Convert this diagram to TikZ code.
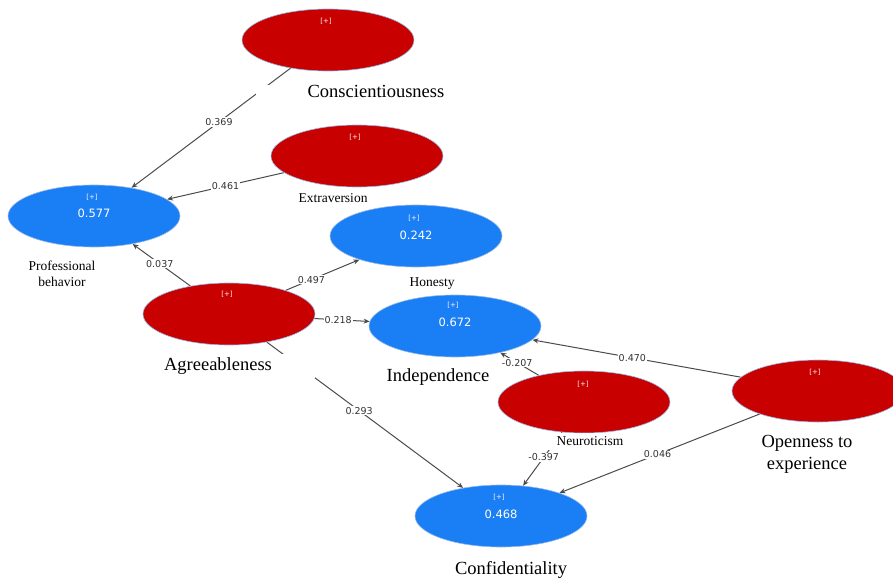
\documentclass[tikz,border=0pt]{standalone}
\usepackage{fontspec}
\setmainfont{Liberation Serif}
\newfontfamily\numfont{DejaVu Sans}
\usetikzlibrary{arrows.meta,shapes.geometric,backgrounds}

\definecolor{latentred}{RGB}{200,0,0}
\definecolor{latentblue}{RGB}{26,126,245}
\definecolor{rimblue}{RGB}{150,185,230}
\definecolor{pathgray}{RGB}{75,75,75}

\tikzset{
  construct/.style={ellipse, minimum width=172pt, minimum height=62pt, inner sep=0pt,
    draw=rimblue, line width=0.6pt},
  exo/.style={construct, fill=latentred},
  endo/.style={construct, fill=latentblue},
  plus/.style={font=\numfont\fontsize{7}{8}\selectfont, text=white!85!pink, inner sep=0pt},
  rsq/.style={font=\numfont\fontsize{11.5}{13}\selectfont, text=white, inner sep=0pt},
  namebox/.style={fill=white, align=center, inner sep=0pt},
  bigname/.style={namebox, font=\fontsize{18.5}{22}\selectfont},
  smallname/.style={namebox, font=\fontsize{13.5}{16}\selectfont},
  path/.style={draw=pathgray, line width=1pt, -{Stealth[length=6pt,width=5pt]}},
  coef/.style={fill=white, inner sep=1pt, font=\numfont\fontsize{9.5}{11}\selectfont, text=black!80},
}

\begin{document}
\begin{tikzpicture}[x=1pt,y=-1pt]
\useasboundingbox (0,0) rectangle (893,583);
\clip (0,0) rectangle (893,583);

% latent variables
\node[exo]  (consc) at (328,40)  {};
\node[exo]  (extra) at (357,156) {};
\node[endo] (prof)  at (94,216)  {};
\node[endo] (hon)   at (416,236) {};
\node[exo]  (agree) at (229,314) {};
\node[endo] (indep) at (455,326) {};
\node[exo]  (neuro) at (584,402) {};
\node[exo]  (open)  at (818,391) {};
\node[endo] (conf)  at (501,516) {};

% expand markers and R-squared values
\node[plus] (pconsc) at (326,21)  {[+]};
\node[plus] (pextra) at (355,137) {[+]};
\node[plus] (pprof)  at (92,197)  {[+]};
\node[plus] (phon)   at (414,218) {[+]};
\node[plus] (pagree) at (227,294) {[+]};
\node[plus] (pindep) at (453,305) {[+]};
\node[plus] (pneuro) at (583,384) {[+]};
\node[plus] (popen)  at (815,372) {[+]};
\node[plus] (pconf)  at (499,497) {[+]};

\node[rsq] (rprof)  at (94,213)  {0.577};
\node[rsq] (rhon)   at (416,235) {0.242};
\node[rsq] (rindep) at (455,322) {0.672};
\node[rsq] (rconf)  at (501,514) {0.468};

% construct names (white boxes interrupt the paths behind them)
\node[bigname, minimum width=240pt]   (nconsc) at (376,91)  {Conscientiousness};
\node[smallname] (nextra) at (333,198) {Extraversion};
\node[smallname] (nprof)  at (62,274)  {Professional\\behavior};
\node[smallname] (nhon)   at (432,284) {Honesty};
\node[bigname, minimum width=194pt, minimum height=24pt] (nagree) at (218,366) {Agreeableness};
\node[bigname]   (nindep) at (438,377) {Independence};
\node[smallname, minimum width=104pt, minimum height=17pt] (nneuro) at (590,441) {Neuroticism};
\node[bigname]   (nopen)  at (807,454) {Openness to\\experience};
\node[bigname]   (nconf)  at (511,570) {Confidentiality};

% structural paths with coefficients
\begin{scope}[on background layer]
\draw[path] (consc) -- node[coef, pos=0.45] (c1) {0.369} (prof);
\draw[path] (extra) -- node[coef, pos=0.50] (c2) {0.461} (prof);
\draw[path] (agree) -- node[coef, pos=0.53] (c3) {0.037} (prof);
\draw[path] (agree) -- node[coef, pos=0.35] (c4) {0.497} (hon);
\draw[path] (agree) -- node[coef, pos=0.43] (c5) {0.218} (indep);
\draw[path] (agree) -- node[coef, pos=0.47] (c6) {0.293} (conf);
\draw[path] (neuro) -- node[coef, pos=0.56] (c7) {-0.207} (indep);
\draw[path] (open)  -- node[coef, pos=0.52] (c8) {0.470} (indep);
\draw[path] (neuro) -- node[coef, pos=0.47] (c9) {-0.397} (conf);
\draw[path] (open)  -- node[coef, pos=0.51] (c10) {0.046} (conf);
\end{scope}
\end{tikzpicture}
\end{document}
